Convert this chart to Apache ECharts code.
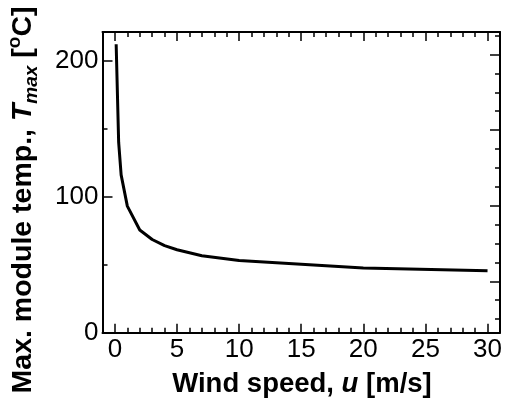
<!DOCTYPE html>
<html><head><meta charset="utf-8">
<script src="https://cdn.jsdelivr.net/npm/echarts@6/dist/echarts.min.js"></script>
<style>html,body{margin:0;padding:0;background:#fff}#c{width:505px;height:401px}</style>
</head><body><div id="c"></div>
<script>
// Data
const windSpeed = [0.1, 0.3, 0.5, 1, 2, 3, 4, 5, 7, 10, 20, 30];
const maxTemp   = [212, 140, 116, 93, 75.5, 68.5, 64, 61, 56.5, 53, 47.5, 45.5];
const xMajorTicks = [0, 5, 10, 15, 20, 25, 30];
const xMinorTicks = [1,2,3,4,6,7,8,9,11,12,13,14,16,17,18,19,21,22,23,24,26,27,28,29,31];
const yMajorTicks = [0, 100, 200];
const yMinorTicks = [50, 150];
const fMajorTicks = [100, 200, 300, 400];
const fMinorTicks = [50, 75, 125, 150, 175, 225, 250, 275, 325, 350, 375, 425];
const xRange = [-1, 31];
const yRange = [0, 221];
const fRange = [yRange[0]*1.8+32, yRange[1]*1.8+32];

const FONT = 'Liberation Sans';
const black = '#000';
function xAxisDef(pos, ticks, len, showLine, labels) {
  return {
    type: 'value', position: pos, min: xRange[0], max: xRange[1],
    axisLine: {show: showLine, onZero: false, lineStyle: {color: black, width: 2}},
    axisTick: {show: true, inside: true, length: len, customValues: ticks, lineStyle: {color: black, width: 1.5}},
    axisLabel: labels ? {show: true, customValues: ticks, color: black, fontFamily: FONT, fontSize: 26, margin: 4} : {show: false},
    splitLine: {show: false}
  };
}
function yAxisDef(pos, range, ticks, len, showLine, labels) {
  return {
    type: 'value', position: pos, min: range[0], max: range[1],
    axisLine: {show: showLine, onZero: false, lineStyle: {color: black, width: 2}},
    axisTick: {show: true, inside: true, length: len, customValues: ticks, lineStyle: {color: black, width: 1.5}},
    axisLabel: labels ? {show: true, customValues: ticks, color: black, fontFamily: FONT, fontSize: 26, margin: 4} : {show: false},
    splitLine: {show: false}
  };
}

const chart = echarts.init(document.getElementById('c'), null, {renderer: 'canvas'});
chart.setOption({
  animation: false,
  backgroundColor: '#fff',
  grid: {left: 102.5, top: 32, width: 399, height: 300.7, containLabel: false},
  xAxis: [
    xAxisDef('bottom', xMajorTicks, 9, true, true),
    xAxisDef('bottom', xMinorTicks, 5, false, false),
    xAxisDef('top', xMajorTicks, 9, true, false),
    xAxisDef('top', xMinorTicks, 5, false, false)
  ],
  yAxis: [
    yAxisDef('left', yRange, yMajorTicks, 10, true, true),
    yAxisDef('left', yRange, yMinorTicks, 5, false, false),
    yAxisDef('right', fRange, fMajorTicks, 10, true, false),
    yAxisDef('right', fRange, fMinorTicks, 5, false, false)
  ],
  series: [{
    type: 'line', xAxisIndex: 0, yAxisIndex: 0,
    data: windSpeed.map((u, i) => [u, maxTemp[i]]),
    showSymbol: false, smooth: false,
    lineStyle: {color: black, width: 3}
  }],
  graphic: [
    {
      type: 'text', x: 302, y: 384,
      style: {
        text: 'Wind speed, {i|u} [m/s]',
        font: 'bold 27.5px ' + FONT, fill: black, align: 'center', verticalAlign: 'middle',
        rich: {i: {fontStyle: 'italic', fontWeight: 'bold', fontSize: 27.5, fontFamily: FONT, fill: black}}
      }
    },
    {
      type: 'text', x: 23, y: 200, rotation: Math.PI / 2,
      style: {
        text: '{n|Max. module temp., }{i|T}{sub|max}{n| [}{sup|o}{n|C]}',
        fill: black, align: 'center', verticalAlign: 'middle',
        rich: {
          n: {fontWeight: 'bold', fontSize: 28.5, fontFamily: FONT, lineHeight: 36, fill: black},
          i: {fontWeight: 'bold', fontStyle: 'italic', fontSize: 28.5, fontFamily: FONT, lineHeight: 36, fill: black},
          sub: {fontWeight: 'bold', fontStyle: 'italic', fontSize: 19, fontFamily: FONT, lineHeight: 19, verticalAlign: 'bottom', fill: black},
          sup: {fontWeight: 'bold', fontSize: 19, fontFamily: FONT, lineHeight: 19, verticalAlign: 'top', fill: black}
        }
      }
    }
  ]
});
</script></body></html>
